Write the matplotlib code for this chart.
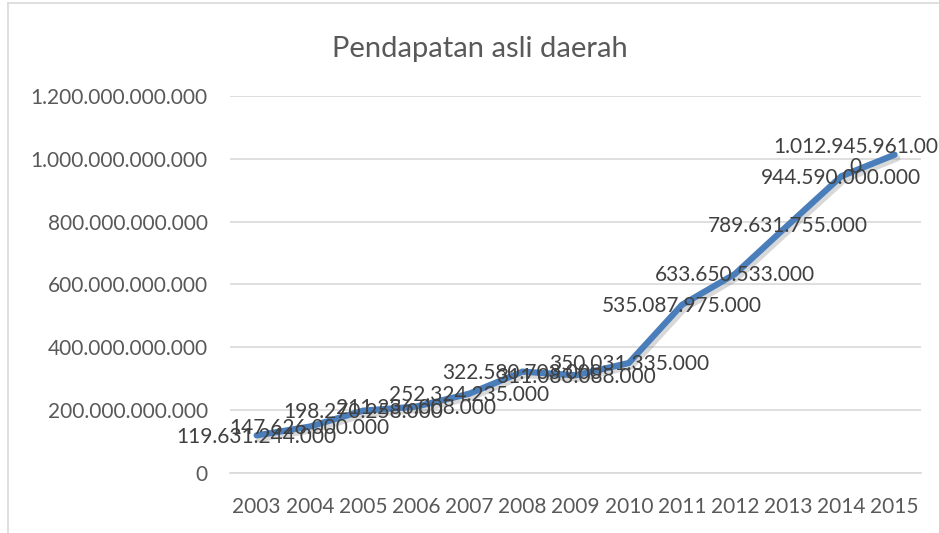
import matplotlib
matplotlib.use('Agg')
import matplotlib.pyplot as plt
import matplotlib.patheffects as pe
from matplotlib.lines import Line2D
from matplotlib.ticker import FuncFormatter, MultipleLocator

#%% Data
years = ['2003', '2004', '2005', '2006', '2007', '2008', '2009',
         '2010', '2011', '2012', '2013', '2014', '2015']
pad = [119631244000, 147626000000, 198270258000, 211236008000,
       252324235000, 322580703000, 311083088000, 350031335000,
       535087975000, 633650533000, 789631755000, 944590000000,
       1012945961000]
title = 'Pendapatan asli daerah'

#%% Style
font = 'Lato'
txtcolor = '#404040'
tickcolor = '#595959'
gridcolor = '#d9d9d9'
linecolor = '#4a7ebb'

def dotted(v):
    return f'{int(v):,}'.replace(',', '.')

#%% Plot
fig = plt.figure(figsize=(9.39, 5.33), dpi=100)
ax = fig.add_axes([0.245, 0.1126, 0.736, 0.7074])

x = list(range(len(years)))
ax.plot(
    x, pad, color=linecolor, lw=4.5, solid_capstyle='round',
    solid_joinstyle='round',
    path_effects=[
        pe.SimpleLineShadow(offset=(2, -2.5), shadow_color='#7f7f7f', alpha=0.3),
        pe.Normal(),
    ],
)

## Data labels, centred on the points (last one wrapped like Excel does)
for i, v in enumerate(pad):
    label = dotted(v)
    dx, dy = 0, -1
    if i == len(pad) - 1:
        label = label[:-1] + '\n' + label[-1]
        dx, dy = -28, -1.5
    ax.annotate(
        label, (i, v), xytext=(dx, dy), textcoords='offset points',
        ha='center', va='center', fontsize=15, color=txtcolor,
        family=font, linespacing=1.0, annotation_clip=False,
    )

ax.set_xlim(-0.5, len(years) - 0.5)
ax.set_ylim(0, 1.2e12)
ax.yaxis.set_major_locator(MultipleLocator(2e11))
ax.yaxis.set_major_formatter(FuncFormatter(lambda v, p: dotted(v)))
ax.set_xticks(x)
ax.set_xticklabels(years)
ax.grid(axis='y', color=gridcolor, lw=1.2)
ax.set_axisbelow(True)
for s in ['top', 'right', 'left']:
    ax.spines[s].set_visible(False)
ax.spines['bottom'].set_color(gridcolor)
ax.spines['bottom'].set_linewidth(1.2)
ax.tick_params(length=0, labelsize=15, labelcolor=tickcolor)
ax.tick_params(axis='y', pad=16)
ax.tick_params(axis='x', pad=17)
for t in ax.get_xticklabels() + ax.get_yticklabels():
    t.set_family(font)

fig.text(0.511, 0.908, title, ha='center', va='center', fontsize=21,
         color=tickcolor, family=font)

## Chart-area border (cropped at right and bottom)
fig.add_artist(Line2D([8/939, 8/939], [0, 1 - 3/533], color=gridcolor, lw=1.2))
fig.add_artist(Line2D([8/939, 1], [1 - 3/533, 1 - 3/533], color=gridcolor, lw=1.2))

fig.savefig('out.png', dpi=100)
